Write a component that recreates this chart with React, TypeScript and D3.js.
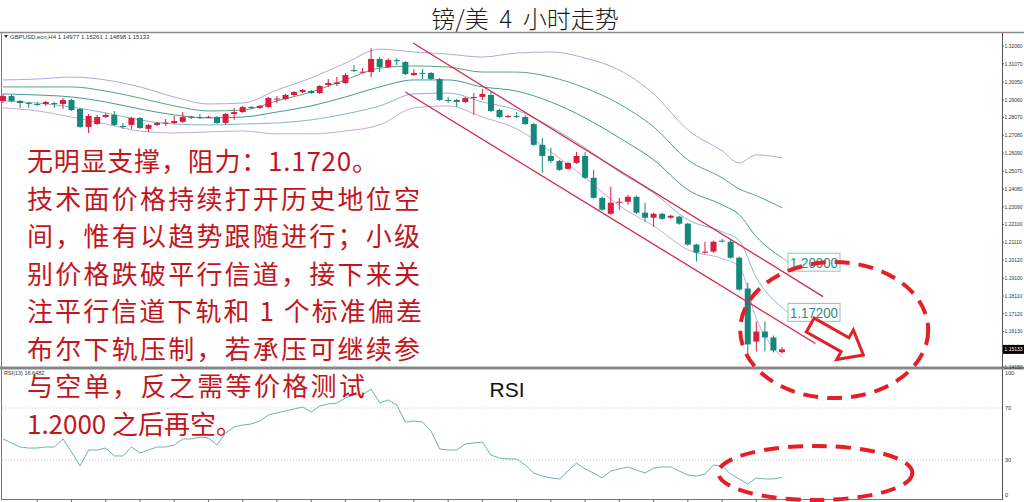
import React from 'react';
import * as d3 from 'd3';

const W = 1024;
const H = 502;

// ---------- data ----------
const openP = [
  1.2900, 1.2927, 1.2900, 1.2888, 1.2883, 1.2883, 1.2888, 1.2883, 1.2905, 1.2855,
  1.2755, 1.2771, 1.2810, 1.2822, 1.2760, 1.2766, 1.2805, 1.2744, 1.2766, 1.2777,
  1.2777, 1.2783, 1.2810, 1.2810, 1.2810, 1.2810, 1.2777, 1.2827, 1.2838, 1.2866,
  1.2861, 1.2866, 1.2911, 1.2911, 1.2933, 1.2950, 1.2955, 1.2944, 1.2989, 1.2994,
  1.3000, 1.3072, 1.3061, 1.3061, 1.3134, 1.3089, 1.3128, 1.3117, 1.3044, 1.3056,
  1.3056, 1.3022, 1.2905, 1.2905, 1.2894, 1.2916, 1.2922, 1.2933, 1.2849, 1.2810,
  1.2816, 1.2810, 1.2771, 1.2655, 1.2593, 1.2565, 1.2521, 1.2554, 1.2593, 1.2471,
  1.2359, 1.2270, 1.2332, 1.2337, 1.2365, 1.2276, 1.2248, 1.2270, 1.2248, 1.2254,
  1.2215, 1.2098, 1.2053, 1.2059, 1.2120, 1.2114, 1.2025, 1.1853, 1.1557, 1.1613,
  1.1580, 1.14977,
];
const highP = [
  1.2939, 1.2933, 1.2905, 1.2894, 1.2894, 1.2900, 1.2894, 1.2916, 1.2911, 1.2861,
  1.2827, 1.2822, 1.2833, 1.2844, 1.2777, 1.2810, 1.2810, 1.2771, 1.2783, 1.2799,
  1.2816, 1.2838, 1.2816, 1.2827, 1.2816, 1.2816, 1.2833, 1.2861, 1.2872, 1.2872,
  1.2877, 1.2922, 1.2927, 1.2939, 1.2955, 1.2966, 1.2961, 1.2989, 1.3022, 1.3033,
  1.3056, 1.3100, 1.3083, 1.3195, 1.3145, 1.3139, 1.3139, 1.3122, 1.3078, 1.3078,
  1.3061, 1.3028, 1.2922, 1.2911, 1.2922, 1.2944, 1.2966, 1.2950, 1.2855, 1.2822,
  1.2838, 1.2822, 1.2777, 1.2694, 1.2638, 1.2571, 1.2560, 1.2616, 1.2616, 1.2515,
  1.2365, 1.2421, 1.2359, 1.2376, 1.2371, 1.2332, 1.2276, 1.2276, 1.2265, 1.2259,
  1.2220, 1.2103, 1.2114, 1.2120, 1.2131, 1.2125, 1.2031, 1.1886, 1.1669, 1.1669,
  1.1591, 1.15261,
];
const lowP = [
  1.2888, 1.2894, 1.2861, 1.2861, 1.2872, 1.2872, 1.2861, 1.2855, 1.2844, 1.2749,
  1.2721, 1.2766, 1.2805, 1.2760, 1.2744, 1.2744, 1.2744, 1.2727, 1.2760, 1.2760,
  1.2771, 1.2777, 1.2799, 1.2799, 1.2805, 1.2771, 1.2766, 1.2794, 1.2833, 1.2855,
  1.2855, 1.2861, 1.2888, 1.2905, 1.2927, 1.2944, 1.2939, 1.2939, 1.2978, 1.2983,
  1.2994, 1.3061, 1.3056, 1.3033, 1.3061, 1.3083, 1.3100, 1.3044, 1.3039, 1.3022,
  1.3017, 1.2900, 1.2888, 1.2866, 1.2888, 1.2822, 1.2905, 1.2838, 1.2805, 1.2805,
  1.2805, 1.2766, 1.2649, 1.2499, 1.2554, 1.2510, 1.2515, 1.2549, 1.2465, 1.2354,
  1.2287, 1.2265, 1.2293, 1.2320, 1.2270, 1.2226, 1.2198, 1.2237, 1.2242, 1.2209,
  1.2092, 1.2003, 1.2048, 1.2053, 1.2109, 1.2020, 1.1841, 1.1463, 1.1502, 1.1502,
  1.1496, 1.14898,
];
const closeP = [
  1.2927, 1.2900, 1.2888, 1.2883, 1.2881, 1.2894, 1.2885, 1.2905, 1.2849, 1.2755,
  1.2816, 1.2810, 1.2822, 1.2766, 1.2757, 1.2805, 1.2749, 1.2766, 1.2777, 1.2779,
  1.2788, 1.2810, 1.2812, 1.2808, 1.2811, 1.2777, 1.2827, 1.2838, 1.2866, 1.2861,
  1.2872, 1.2916, 1.2913, 1.2933, 1.2950, 1.2961, 1.2944, 1.2983, 1.3000, 1.3003,
  1.3044, 1.3067, 1.3063, 1.3134, 1.3089, 1.3128, 1.3122, 1.3050, 1.3056, 1.3054,
  1.3022, 1.2905, 1.2903, 1.2894, 1.2916, 1.2922, 1.2939, 1.2844, 1.2810, 1.2816,
  1.2814, 1.2771, 1.2655, 1.2593, 1.2565, 1.2515, 1.2554, 1.2593, 1.2471, 1.2359,
  1.2293, 1.2332, 1.2337, 1.2365, 1.2276, 1.2248, 1.2270, 1.2242, 1.2259, 1.2215,
  1.2098, 1.2053, 1.2059, 1.2114, 1.2118, 1.2025, 1.1847, 1.1541, 1.1613, 1.1580,
  1.1507, 1.15133,
];

// Bollinger band lines, read at these candle indices
const bandIdx = [0, 4, 8, 12, 16, 20, 24, 28, 32, 36, 40, 44, 48, 52, 56, 60, 64, 68, 72, 76, 80, 84, 86, 88, 91];
const bandUpper2 = [1.3017, 1.3022, 1.3033, 1.3017, 1.2978, 1.2922, 1.2883, 1.2888, 1.2961, 1.3028, 1.3111, 1.3189, 1.3173, 1.3161, 1.3145, 1.3167, 1.3173, 1.3139, 1.3072, 1.2939, 1.2738, 1.2621, 1.2554, 1.2599, 1.2582];
const bandUpper1 = [1.2978, 1.2978, 1.2978, 1.2955, 1.2916, 1.2872, 1.2844, 1.2849, 1.2900, 1.2950, 1.3017, 1.3083, 1.3095, 1.3089, 1.3061, 1.3061, 1.3033, 1.2972, 1.2883, 1.2755, 1.2571, 1.2471, 1.2409, 1.2371, 1.2304];
const bandMiddle = [1.2939, 1.2933, 1.2922, 1.2894, 1.2855, 1.2822, 1.2805, 1.2810, 1.2838, 1.2872, 1.2922, 1.2978, 1.3017, 1.3017, 1.2978, 1.2955, 1.2894, 1.2805, 1.2694, 1.2571, 1.2404, 1.2320, 1.2265, 1.2142, 1.2025];
const bandLower1 = [1.2900, 1.2888, 1.2866, 1.2833, 1.2794, 1.2771, 1.2766, 1.2771, 1.2777, 1.2794, 1.2827, 1.2872, 1.2939, 1.2944, 1.2894, 1.2849, 1.2755, 1.2638, 1.2504, 1.2387, 1.2237, 1.2170, 1.2120, 1.1914, 1.1747];
const bandLower2 = [1.2861, 1.2844, 1.2810, 1.2771, 1.2732, 1.2721, 1.2727, 1.2732, 1.2716, 1.2716, 1.2732, 1.2766, 1.2861, 1.2872, 1.2810, 1.2744, 1.2616, 1.2471, 1.2315, 1.2203, 1.2070, 1.2020, 1.1975, 1.1685, 1.1468];

const rsiValues = [
  46.2, 43.1, 40.0, 39.2, 39.2, 40.0, 40.0, 46.2, 36.2, 25.4,
  37.7, 37.7, 39.2, 33.1, 33.1, 40.0, 35.4, 37.7, 40.0, 40.0,
  41.5, 46.2, 46.2, 47.7, 46.9, 41.5, 50.8, 55.4, 56.9, 57.7,
  60.0, 64.6, 66.2, 67.7, 69.2, 70.8, 66.9, 71.5, 73.1, 73.8,
  77.7, 80.0, 80.0, 84.6, 73.8, 76.2, 72.3, 59.2, 60.0, 59.2,
  52.3, 38.5, 37.7, 37.7, 42.3, 43.1, 43.8, 33.8, 31.5, 30.8,
  30.8, 26.2, 20.0, 17.7, 16.2, 15.4, 21.5, 27.7, 23.1, 20.0,
  16.2, 21.5, 23.1, 24.6, 22.3, 20.0, 23.8, 24.6, 24.6, 21.5,
  18.5, 17.7, 19.2, 26.2, 25.4, 19.2, 15.4, 11.5, 16.2, 15.4,
  15.4, 16.6482,
];

const priceTicks = [1.3206, 1.3107, 1.3005, 1.2906, 1.2807, 1.2708, 1.2609, 1.2507, 1.2408, 1.2309, 1.2210, 1.2111, 1.2012, 1.1910, 1.1811, 1.1712, 1.1613, 1.1415];
const rsiTicks = [100, 70, 30, 0];
const rsiLevels = [70, 30];
const timeTickIdx = [4, 8, 12, 16, 20, 24, 28, 32, 36, 40, 44, 48, 52, 56, 60, 64, 68, 72, 76, 80, 84, 88];

// channel lines (candle index, price)
const channelUpper = [[47.9, 1.3223], [95.8, 1.1808]];
const channelLower = [[47.0, 1.2950], [94.9, 1.1546]];

const levelLabels = [
  { price: 1.2, text: '1.20000', band: bandMiddle },
  { price: 1.172, text: '1.17200', band: bandLower1 },
];

const commentLines = [
  '无明显支撑，阻力：1.1720。',
  '技术面价格持续打开历史地位空',
  '间，惟有以趋势跟随进行；小级',
  '别价格跌破平行信道，接下来关',
  '注平行信道下轨和 1 个标准偏差',
  '布尔下轨压制，若承压可继续参',
  '与空单，反之需等价格测试',
  '1.2000 之后再空。',
];
const commentWidths = [351, 393, 393, 393, 395, 393, 338, 215];

const titleText = '镑/美  4  小时走势';
const lastOHLC = 'GBPUSD.ecn,H4  1.14977 1.15261 1.14898 1.15133';

// ---------- component ----------
export default function App() {
  const N = closeP.length;
  const x = d3.scaleLinear().domain([0, N - 1]).range([3, 782]);
  const y = d3.scaleLinear().domain([1.1415, 1.3279]).range([367, 33]);
  const yr = d3.scaleLinear().domain([0, 100]).range([499, 369]);

  const BULL = '#d81e3f';
  const BEAR = '#16877b';
  const bodyW = 6;

  const bandLine = (arr: number[]) =>
    d3.line<number>()
      .x((_, k) => x(bandIdx[k]))
      .y((v) => y(v))
      .curve(d3.curveMonotoneX)(arr) as string;

  const rsiPath = d3.line<number>()
    .x((_, k) => x(k))
    .y((v) => yr(v))(rsiValues) as string;

  const chanPath = (pts: number[][]) =>
    d3.line<number[]>().x((p) => x(p[0])).y((p) => y(p[1]))(pts) as string;

  // annotation positions in data space
  const ell1 = { cx: x(97.1), cy: y(1.1621), rx: 94, ry: 68 };
  const ell2 = { cx: x(94.9), cy: yr(20), rx: 97, ry: 27 };

  // hollow arrow
  const aStart: [number, number] = [x(94.3), y(1.1649)];
  const aTip: [number, number] = [x(100.5), y(1.1482)];
  const dx = aTip[0] - aStart[0];
  const dy = aTip[1] - aStart[1];
  const len = Math.hypot(dx, dy);
  const ux = dx / len, uy = dy / len;
  const px = -uy, py = ux;
  const sw = 8, hw = 17, hl = 21;
  const bx = aTip[0] - ux * hl, by = aTip[1] - uy * hl;
  const arrowPts = [
    [aStart[0] + px * sw, aStart[1] + py * sw],
    [bx + px * sw, by + py * sw],
    [bx + px * hw, by + py * hw],
    aTip,
    [bx - px * hw, by - py * hw],
    [bx - px * sw, by - py * sw],
    [aStart[0] - px * sw, aStart[1] - py * sw],
  ].map((p) => p.join(',')).join(' ');

  const lastClose = closeP[N - 1];

  return (
    <svg width={W} height={H} style={{ position: 'absolute', left: 0, top: 0, background: '#fff' }}
      xmlns="http://www.w3.org/2000/svg">
      <rect x={0} y={0} width={W} height={H} fill="#fff" />
      {/* title */}
      <text x={525} y={28} textAnchor="middle" fontFamily="'Noto Sans CJK SC', sans-serif" fontSize={24}
        fill="#1a1a1a" fontWeight={300} style={{ whiteSpace: 'pre' }}>{titleText}</text>
      <line x1={0} x2={W} y1={32.5} y2={32.5} stroke="#8a8a8a" strokeWidth={1.5} />

      {/* frames */}
      <line x1={1.5} x2={1.5} y1={33} y2={500} stroke="#777" strokeWidth={1} />
      <line x1={1002.5} x2={1002.5} y1={33} y2={500} stroke="#555" strokeWidth={1} />
      <line x1={0} x2={W} y1={368} y2={368} stroke="#888" strokeWidth={3} />
      <line x1={1.5} x2={1002.5} y1={499.5} y2={499.5} stroke="#777" strokeWidth={1} />

      {/* header */}
      <path d="M4,35 L8,35 L6,38 Z" fill="#333" />
      <text x={10} y={38.5} fontFamily="'Liberation Sans', sans-serif" fontSize={6} fill="#333">{lastOHLC}</text>

      {/* bands */}
      <g fill="none" strokeWidth={1}>
        <path d={bandLine(bandUpper2)} stroke="#b3a6e4" />
        <path d={bandLine(bandUpper1)} stroke="#5aa283" />
        <path d={bandLine(bandMiddle)} stroke="#3f9d93" />
        <path d={bandLine(bandLower1)} stroke="#86b8c6" />
        <path d={bandLine(bandLower2)} stroke="#c7a8dc" />
      </g>

      {/* candles */}
      <g>
        {closeP.map((c, i) => {
          const o = openP[i];
          const bull = c >= o;
          const col = bull ? BULL : BEAR;
          const top = y(Math.max(o, c));
          const bot = y(Math.min(o, c));
          const h = Math.max(1, bot - top);
          const cx = x(i);
          return (
            <g key={i}>
              <line x1={cx} x2={cx} y1={y(highP[i])} y2={y(lowP[i])} stroke={col} strokeWidth={1} />
              <rect x={cx - bodyW / 2} y={top} width={bodyW} height={h} fill={col} />
            </g>
          );
        })}
      </g>

      {/* channel */}
      <g stroke="#d3284f" strokeWidth={1.3} fill="none">
        <path d={chanPath(channelUpper)} />
        <path d={chanPath(channelLower)} />
      </g>

      {/* level labels */}
      {levelLabels.map((l) => {
        const ly = y(l.price);
        const endY = y(l.band[l.band.length - 1]);
        return (
          <g key={l.text}>
            <line x1={x(N - 1)} y1={endY} x2={788} y2={ly} stroke="#9cc4c0" strokeWidth={1} />
            <rect x={788} y={ly - 9} width={52} height={18} fill="#fff" stroke="#8fc1ba" strokeWidth={1} />
            <text x={814} y={ly + 5.5} textAnchor="middle" fontFamily="'Liberation Sans', Arial, sans-serif"
              fontSize={15} fill="#2f8a80" textLength={48} lengthAdjust="spacingAndGlyphs">{l.text}</text>
          </g>
        );
      })}

      {/* price axis */}
      <g fontFamily="'Liberation Sans', sans-serif" fontSize={5} fill="#333">
        {priceTicks.map((p) => (
          <g key={p}>
            <line x1={1002} x2={1004} y1={y(p)} y2={y(p)} stroke="#555" />
            <text x={1004.5} y={y(p) + 1.8}>{p.toFixed(5)}</text>
          </g>
        ))}
        <rect x={1003} y={y(lastClose) - 4.5} width={21} height={9} fill="#000" />
        <text x={1004.5} y={y(lastClose) + 1.8} fill="#fff">{lastClose.toFixed(5)}</text>
      </g>

      {/* RSI panel */}
      <text x={4} y={375} fontFamily="'Liberation Sans', sans-serif" fontSize={5.5} fill="#333">RSI(13) 16.6482</text>
      {rsiLevels.map((v) => (
        <line key={v} x1={2} x2={1002} y1={yr(v)} y2={yr(v)} stroke="#b5b5b5" strokeWidth={0.8} strokeDasharray="1,2" />
      ))}
      <path d={rsiPath} fill="none" stroke="#6fb2b0" strokeWidth={1} />
      <g fontFamily="'Liberation Sans', sans-serif" fontSize={5.5} fill="#333">
        {rsiTicks.map((v) => (
          <text key={v} x={1005} y={Math.min(497, Math.max(375, yr(v) + 2))}>{v}</text>
        ))}
      </g>
      {timeTickIdx.map((i) => (
        <line key={i} x1={x(i)} x2={x(i)} y1={499} y2={502} stroke="#666" strokeWidth={1} />
      ))}
      <text x={507} y={397} textAnchor="middle" fontFamily="'Liberation Sans', Arial, sans-serif" fontSize={21} fill="#111">RSI</text>

      {/* annotations */}
      <ellipse cx={ell1.cx} cy={ell1.cy} rx={ell1.rx} ry={ell1.ry} fill="none" stroke="#e41f26" strokeWidth={4}
        strokeDasharray="15,9" />
      <ellipse cx={ell2.cx} cy={ell2.cy} rx={ell2.rx} ry={ell2.ry} fill="none" stroke="#e41f26" strokeWidth={4}
        strokeDasharray="15,9" />
      <polygon points={arrowPts} fill="#fff" stroke="#e41f26" strokeWidth={3} strokeLinejoin="miter" />

      {/* commentary */}
      <g fontFamily="'Noto Sans CJK SC', serif" fontSize={26} fill="#c3161c">
        {commentLines.map((t, k) => (
          <text key={k} x={27} y={171 + k * 37.5} textLength={commentWidths[k]} lengthAdjust="spacing">{t}</text>
        ))}
      </g>
    </svg>
  );
}
